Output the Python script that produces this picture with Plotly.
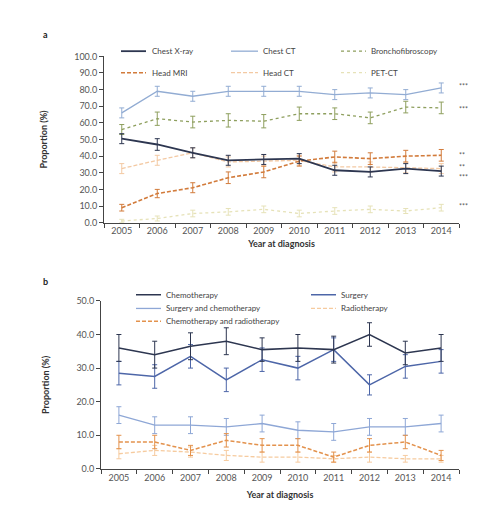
import plotly.graph_objects as go

years = [2005, 2006, 2007, 2008, 2009, 2010, 2011, 2012, 2013, 2014]
year_labels = ["2005", "2006", "2007", "2008", "2009", "2010", "2011", "2012", "2013", "2014"]

# ---- Panel a: imaging examinations ----
chest_xray = [50.5, 47.0, 42.0, 37.5, 38.0, 38.5, 31.5, 30.5, 32.5, 31.0]
chest_xray_err = [3.0, 3.5, 3.0, 3.0, 3.0, 3.0, 3.0, 3.0, 3.0, 3.0]
chest_ct = [66.0, 79.0, 76.0, 79.0, 79.0, 79.0, 77.0, 78.0, 77.0, 81.0]
chest_ct_err = [3.0, 3.0, 3.0, 3.0, 3.0, 3.0, 3.0, 3.0, 3.0, 3.0]
broncho = [56.0, 62.5, 60.5, 61.5, 61.0, 65.5, 65.5, 63.0, 69.5, 69.0]
broncho_err = [3.0, 4.0, 3.5, 4.0, 4.0, 4.0, 3.5, 3.5, 3.5, 3.5]
head_mri = [9.0, 17.5, 21.0, 27.0, 30.5, 37.0, 39.5, 38.5, 40.0, 40.5]
head_mri_err = [2.0, 2.5, 3.0, 3.5, 3.5, 3.0, 3.5, 3.5, 3.5, 3.5]
head_ct = [32.5, 37.5, 42.0, 36.5, 37.0, 37.5, 33.5, 33.5, 33.0, 32.5]
head_ct_err = [3.0, 3.0, 3.0, 3.0, 3.0, 3.0, 3.0, 3.0, 3.0, 3.0]
pet_ct = [1.0, 2.5, 5.5, 6.5, 8.0, 5.5, 7.0, 8.0, 7.0, 9.0]
pet_ct_err = [1.0, 1.5, 2.0, 2.0, 2.0, 2.0, 2.0, 2.0, 1.5, 2.0]
sig_a_labels = ["***", "***", "**", "**", "***", "***"]
sig_a_y = [82.0, 68.5, 40.8, 33.2, 27.2, 9.8]

# ---- Panel b: treatments ----
chemo = [36.0, 34.0, 36.5, 38.0, 35.5, 36.0, 35.5, 40.0, 34.5, 36.0]
chemo_err = [4.0, 4.0, 4.0, 4.0, 3.5, 4.0, 4.0, 3.5, 3.5, 4.0]
surgery = [28.5, 27.5, 33.5, 26.5, 32.5, 30.0, 35.5, 25.0, 30.5, 32.0]
surgery_err = [3.5, 3.5, 3.5, 3.5, 3.5, 3.5, 3.5, 3.0, 3.5, 3.5]
surg_chemo = [16.0, 13.0, 13.0, 12.5, 13.5, 11.5, 11.0, 12.5, 12.5, 13.5]
surg_chemo_err = [2.5, 2.5, 2.5, 2.5, 2.5, 2.5, 2.5, 2.5, 2.5, 2.5]
radio = [4.5, 5.5, 5.0, 4.0, 3.5, 3.5, 3.0, 3.5, 3.0, 3.0]
radio_err = [1.5, 1.5, 1.5, 1.5, 1.5, 1.5, 1.0, 1.5, 1.0, 1.0]
chemo_radio = [8.0, 8.0, 5.5, 8.5, 7.0, 7.0, 3.5, 7.0, 8.0, 4.0]
chemo_radio_err = [2.0, 2.0, 1.5, 2.0, 2.0, 2.0, 1.5, 2.0, 2.0, 1.5]
sig_b_labels = ["*", "*", "*", "**", "**"]
sig_b_y = [36.0, 31.3, 13.6, 5.8, 2.6]

FONT = "Lato, Open Sans, sans-serif"
H = 505.0
W = 504.0
DASH = "4px,2px"

fig = go.Figure()

def add_series(y, err, color, dash, width, xa, ya, errcolor=None):
    fig.add_trace(go.Scatter(
        x=years, y=y, mode="lines", xaxis=xa, yaxis=ya,
        line=dict(color=color, width=width, dash=dash),
        error_y=dict(type="data", array=err, visible=True,
                     color=errcolor or color, thickness=1, width=2.5),
        showlegend=False, hoverinfo="skip"))

# panel a (draw lighter first)
series_a = [
    ("PET-CT", pet_ct, pet_ct_err, "#e6e2b8", "dot", 1.3),
    ("Head CT", head_ct, head_ct_err, "#f3c9a3", DASH, 1.3),
    ("Bronchofibroscopy", broncho, broncho_err, "#8e9f5e", "dot", 1.3),
    ("Chest CT", chest_ct, chest_ct_err, "#92acd3", "solid", 1.3),
    ("Head MRI", head_mri, head_mri_err, "#d27b3b", DASH, 1.6),
    ("Chest X-ray", chest_xray, chest_xray_err, "#2d3650", "solid", 1.8),
]
for name, y, e, c, d, w in series_a:
    add_series(y, e, c, d, w, "x", "y")

series_b = [
    ("Radiotherapy", radio, radio_err, "#f6cb9f", DASH, 1.3),
    ("Surgery and chemotherapy", surg_chemo, surg_chemo_err, "#8ea7d6", "solid", 1.3),
    ("Chemotherapy and radiotherapy", chemo_radio, chemo_radio_err, "#e3924d", DASH, 1.5),
    ("Surgery", surgery, surgery_err, "#4d66a8", "solid", 1.5),
    ("Chemotherapy", chemo, chemo_err, "#2d3650", "solid", 1.5),
]
for name, y, e, c, d, w in series_b:
    add_series(y, e, c, d, w, "x2", "y2")

def px2x(px):
    return px / W

def px2y(py):
    return 1 - py / H

shapes = []
annotations = []

def legend_entry(x0, x1, ty, tx, color, dash, width, text):
    shapes.append(dict(type="line", xref="paper", yref="paper",
                       x0=px2x(x0), x1=px2x(x1), y0=px2y(ty), y1=px2y(ty),
                       line=dict(color=color, width=width, dash=dash)))
    annotations.append(dict(xref="paper", yref="paper", x=px2x(tx), y=px2y(ty),
                            text=text, showarrow=False, xanchor="left", yanchor="middle",
                            font=dict(family=FONT, size=8, color="#444")))

lookup_a = {s[0]: s for s in series_a}
legend_a = [
    ("Chest X-ray", 113, 138, 38, 142),
    ("Chest CT", 223, 250, 38, 253),
    ("Bronchofibroscopy", 333, 358, 38, 361),
    ("Head MRI", 113, 138, 60, 142),
    ("Head CT", 223, 250, 60, 253),
    ("PET-CT", 333, 358, 60, 361),
]
for name, x0, x1, ty, tx in legend_a:
    s = lookup_a[name]
    legend_entry(x0, x1, ty, tx, s[3], s[4], s[5], name)

lookup_b = {s[0]: s for s in series_b}
legend_b = [
    ("Chemotherapy", 128, 153, 287, 156),
    ("Surgery", 303, 328, 287, 331),
    ("Surgery and chemotherapy", 128, 153, 301, 156),
    ("Radiotherapy", 303, 328, 301, 331),
    ("Chemotherapy and radiotherapy", 128, 153, 314, 156),
]
for name, x0, x1, ty, tx in legend_b:
    s = lookup_b[name]
    legend_entry(x0, x1, ty, tx, s[3], s[4], s[5], name)

# significance marks
for lab, yv in zip(sig_a_labels, sig_a_y):
    annotations.append(dict(xref="x", yref="y", x=2014.45, y=yv, text=lab, showarrow=False,
                            xanchor="left", yanchor="middle",
                            font=dict(family=FONT, size=7, color="#555")))
for lab, yv in zip(sig_b_labels, sig_b_y):
    annotations.append(dict(xref="x2", yref="y2", x=2014.6, y=yv, text=lab, showarrow=False,
                            xanchor="left", yanchor="middle",
                            font=dict(family=FONT, size=7, color="#555")))

# panel labels
annotations.append(dict(xref="paper", yref="paper", x=px2x(37), y=px2y(21), text="<b>a</b>",
                        showarrow=False, xanchor="center", yanchor="middle",
                        font=dict(family=FONT, size=9, color="#222")))
annotations.append(dict(xref="paper", yref="paper", x=px2x(37), y=px2y(273), text="<b>b</b>",
                        showarrow=False, xanchor="center", yanchor="middle",
                        font=dict(family=FONT, size=9, color="#222")))

axis_common = dict(showline=True, linecolor="#444", linewidth=1, showgrid=False,
                   zeroline=False, tickfont=dict(family=FONT, size=9, color="#555"))

def make_xaxis(domain, anchor, standoff):
    return dict(axis_common, domain=domain, anchor=anchor,
                range=[2004.5, 2014.5], tickvals=years, ticktext=year_labels,
                ticks="", ticklen=0,
                minor=dict(ticks="outside", tick0=2004.5, dtick=1, ticklen=4,
                           tickcolor="#444", tickwidth=1),
                title=dict(text="<b>Year at diagnosis</b>", standoff=standoff,
                           font=dict(family=FONT, size=9, color="#333")))

def make_yaxis(domain, anchor, rng, vals):
    return dict(axis_common, domain=domain, anchor=anchor,
                range=rng, tickvals=vals,
                tickformat=".1f", ticks="outside", ticklen=4, tickcolor="#444",
                title=dict(text="<b>Proportion (%)</b>", standoff=25,
                           font=dict(family=FONT, size=9, color="#333")))

fig.update_layout(
    width=504, height=505,
    margin=dict(l=0, r=0, t=0, b=0),
    paper_bgcolor="white", plot_bgcolor="white",
    showlegend=False,
    xaxis=make_xaxis([px2x(96), px2x(451)], "y", 5),
    yaxis=make_yaxis([px2y(213.3), px2y(43.3)], "x", [0, 100],
                     [0, 10, 20, 30, 40, 50, 60, 70, 80, 90, 100]),
    xaxis2=make_xaxis([px2x(93), px2x(451)], "y2", 10),
    yaxis2=make_yaxis([px2y(465), px2y(293.3)], "x2", [0, 50], [0, 10, 20, 30, 40, 50]),
    shapes=shapes,
    annotations=annotations,
)

fig.write_html("out.html")
